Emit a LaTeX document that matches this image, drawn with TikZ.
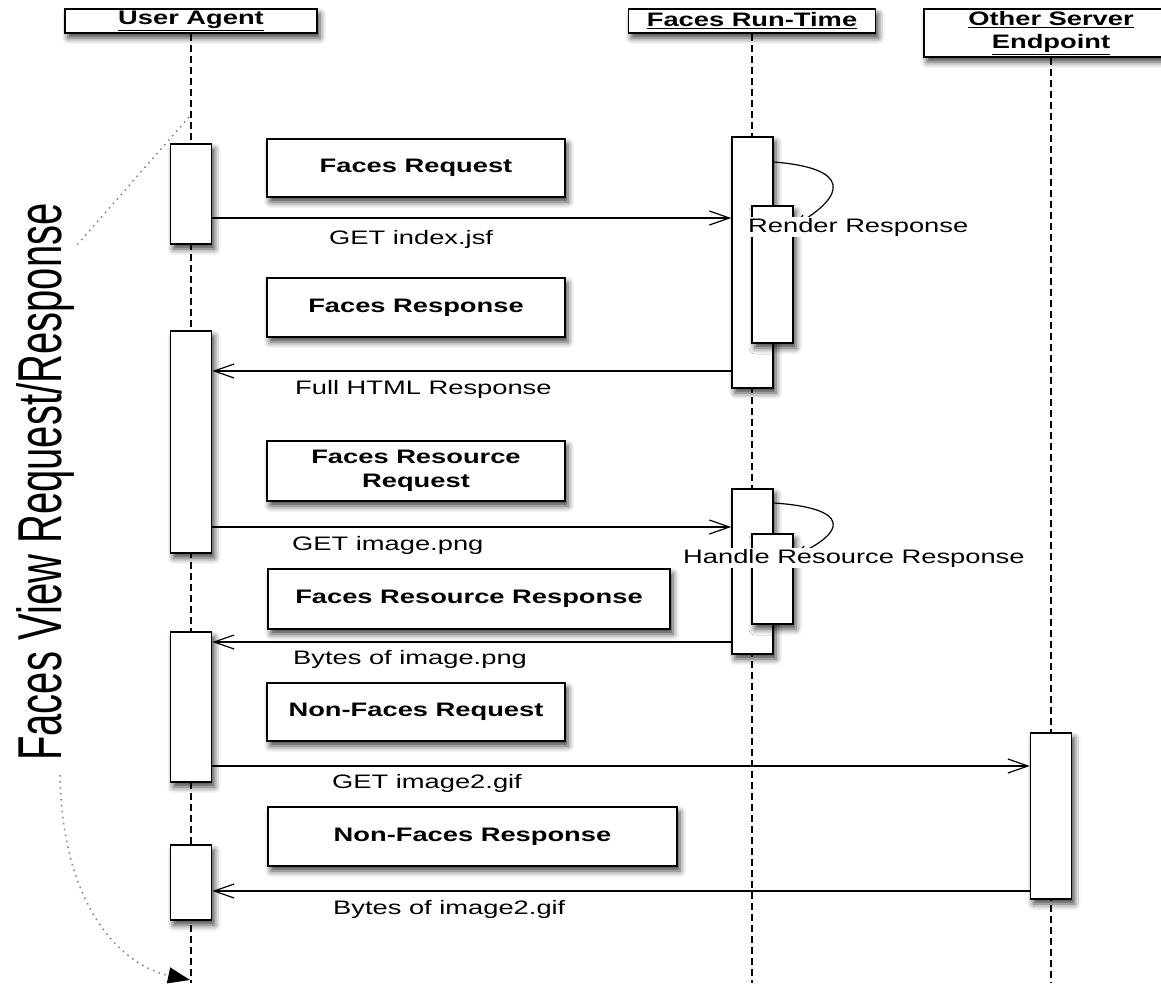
\documentclass[tikz,border=0pt]{standalone}
\usepackage{fontspec}
\usepackage{graphicx}
\setmainfont{Liberation Sans}[FakeStretch=1.4]
\newfontfamily\sidefont{Liberation Sans}
\usetikzlibrary{arrows.meta,shadows.blur}

\tikzset{
  shadowed/.style={blur shadow={shadow xshift=3pt,shadow yshift=-5pt,shadow blur radius=6pt,shadow opacity=75}},
  head/.style={draw,fill=white,line width=1.6pt,inner sep=0pt,align=center,
    font=\bfseries\fontsize{19.5}{23}\selectfont,shadowed},
  note/.style={draw,fill=white,line width=1.6pt,inner sep=0pt,align=center,
    minimum width=298pt,font=\bfseries\fontsize{19.5}{24}\selectfont,shadowed},
  bar/.style={draw,fill=white,line width=1.6pt,inner sep=0pt,minimum width=41pt,shadowed},
  lifeline/.style={line width=1.5pt,dash pattern=on 7pt off 4pt},
  msg/.style={line width=1.2pt,-{Straight Barb[length=20pt,width=14pt]}},
  msglabel/.style={anchor=west,inner sep=0pt,font=\fontsize{19.5}{23}\selectfont},
  selfcall/.style={line width=1.2pt,-{Straight Barb[length=12pt,width=10pt]}},
  steplabel/.style={anchor=west,fill=white,inner sep=1pt,font=\fontsize{19.5}{23}\selectfont},
  scopeline/.style={gray,line width=1.5pt,dash pattern=on 1.5pt off 4.5pt},
}

\begin{document}
\begin{tikzpicture}[x=1pt,y=-1pt]
  \useasboundingbox (0,0) rectangle (1161,983);

  % participants
  \node[head,minimum width=252pt,minimum height=24pt] (ua) at (191,21) {\underline{User Agent}};
  \node[head,minimum width=247pt,minimum height=24pt] (fr) at (752,21) {\underline{Faces Run-Time}};
  \node[head,minimum width=254pt,minimum height=48pt] (os) at (1051,33) {\underline{Other Server}\\\underline{Endpoint}};

  \draw[lifeline] (ua.south) -- (ua.south |- 0,983);
  \draw[lifeline] (fr.south) -- (fr.south |- 0,983);
  \draw[lifeline] (os.south) -- (os.south |- 0,983);

  % activations
  \node[bar,minimum height=100pt] (ua1) at (191,194) {};
  \node[bar,minimum height=222pt] (ua2) at (191,442) {};
  \node[bar,minimum height=150pt] (ua3) at (191,707) {};
  \node[bar,minimum height=75pt] (ua4) at (191,882.5) {};

  \node[bar,minimum height=251pt] (frA) at (752.5,262.5) {};
  \node[bar,minimum height=137pt] (frAin) at (772.5,274.5) {};
  \node[bar,minimum height=165pt] (frB) at (752.5,571.5) {};
  \node[bar,minimum height=90pt] (frBin) at (772.5,579) {};

  \node[bar,minimum height=166pt] (os1) at (1051,816) {};

  % notes
  \node[note,minimum height=58pt] (n1) at (416,168) {Faces Request};
  \node[note,minimum height=59pt] (n2) at (416,307.5) {Faces Response};
  \node[note,minimum height=60pt] (n3) at (416,471) {Faces Resource\\Request};
  \node[note,minimum width=402pt,minimum height=60pt] (n4) at (469,599) {Faces Resource Response};
  \node[note,minimum height=58pt] (n5) at (416,712) {Non-Faces Request};
  \node[note,minimum width=409pt,minimum height=59pt] (n6) at (472.5,836.5) {Non-Faces Response};

  % messages
  \draw[msg] (ua1.east |- 0,218) -- (frA.west |- 0,218);
  \draw[msg] (frA.west |- 0,371) -- (ua2.east |- 0,371);
  \draw[msg] (ua2.east |- 0,527) -- (frB.west |- 0,527);
  \draw[msg] (frB.west |- 0,642) -- (ua3.east |- 0,642);
  \draw[msg] (ua3.east |- 0,766) -- (os1.west |- 0,766);
  \draw[msg] (os1.west |- 0,891) -- (ua4.east |- 0,891);

  \node[msglabel] (l1) at (329,239) {GET index.jsf};
  \node[msglabel] (l2) at (295,389) {Full HTML Response};
  \node[msglabel] (l3) at (292,545) {GET image.png};
  \node[msglabel] (l4) at (293,659) {Bytes of image.png};
  \node[msglabel] (l5) at (332,783) {GET image2.gif};
  \node[msglabel] (l6) at (333,909) {Bytes of image2.gif};

  % self calls
  \draw[selfcall] (frA.east |- 0,162) .. controls (850,168) and (848,195) .. (frAin.east |- 0,226);
  \node[steplabel] (s1) at (747,227) {Render Response};
  \draw[selfcall] (frB.east |- 0,503) .. controls (850,508) and (848,532) .. (frBin.east |- 0,556);
  \node[steplabel] (s2) at (682,558) {Handle Resource Response};

  % scope of the request/response
  \node[anchor=base,rotate=90,inner sep=0pt,font=\sidefont\fontsize{40}{40}\selectfont] (side) at (61,482)
    {\scalebox{1}[1.55]{Faces View Request/Response}};
  \coordinate (sidetop) at (77,245);
  \coordinate (sidelow) at (60,775);
  \draw[scopeline] (189,117) -- (sidetop);
  \draw[scopeline,-{Triangle[length=22pt,width=16pt,color=black]}] (sidelow) .. controls (62,905) and (120,965) .. (190,980);
\end{tikzpicture}
\end{document}
